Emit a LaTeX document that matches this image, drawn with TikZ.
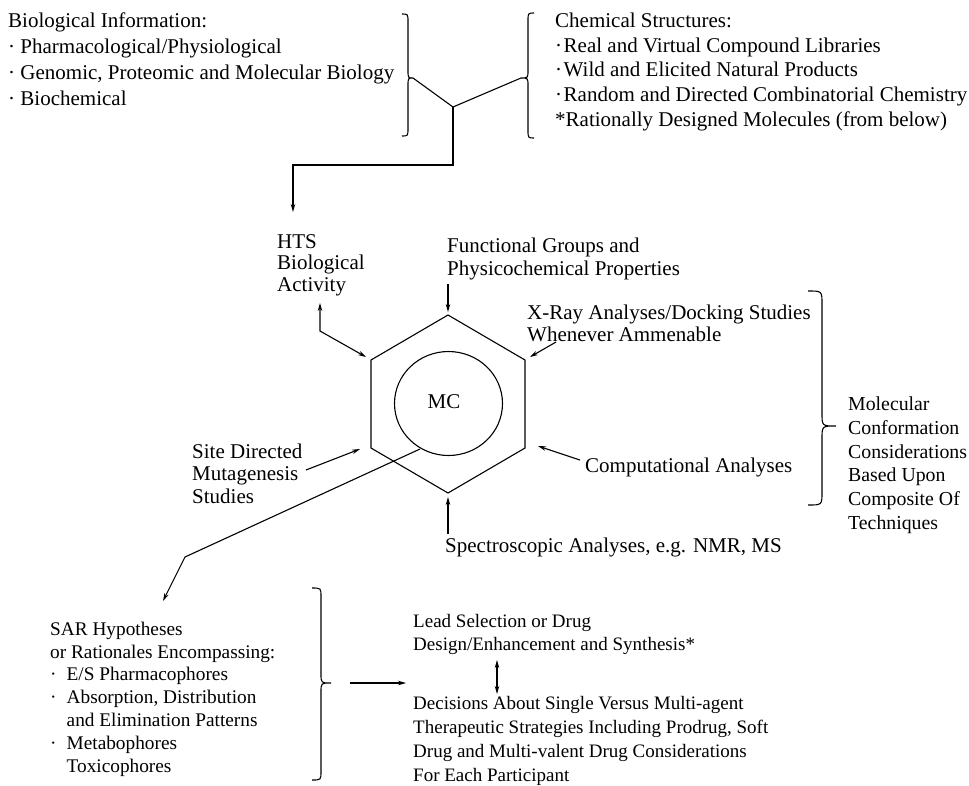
\documentclass[tikz,border=0pt]{standalone}
\usepackage{fontspec}
\setmainfont{Liberation Serif}
\usetikzlibrary{arrows.meta}
% text size and line pitch of a block
\newcommand\blockfont[1]{\fontsize{21}{#1}\selectfont}
\newcommand\sizedfont[2]{\fontsize{#1}{#2}\selectfont}
% hanging bullet used in the SAR list, and the matching indent
\newcommand\sarbul{\makebox[16.5pt][l]{·}}
\newcommand\sarind{\hspace*{16.5pt}}
% curly brace: #1 spine x, #2 top y, #3 tip y, #4 bottom y, #5 tip x, #6 end offset, #7 curl height
\newcommand\CurlyBrace[7]{%
  \draw[brc] ({#1+#6},#2) .. controls (#1,#2) .. (#1,{#2+#7})
    -- (#1,{#3-#7}) .. controls (#1,#3) .. (#5,#3)
    .. controls (#1,#3) .. (#1,{#3+#7})
    -- (#1,{#4-#7}) .. controls (#1,#4) .. ({#1+#6},#4);}
\begin{document}
\begin{tikzpicture}[x=1pt,y=-1pt,
  % multi-line labels are placed by the baseline of their last line
  lbl/.style={anchor=base west, inner sep=0pt, align=left},
  conn/.style={line width=1.1pt},
  arr/.style={conn, -{Stealth[length=8pt,width=4.5pt]}},
  dblarr/.style={conn, {Stealth[length=8pt,width=4.5pt]}-{Stealth[length=8pt,width=4.5pt]}},
  brc/.style={line width=1.1pt}]
\useasboundingbox (0,0) rectangle (969,785);

% ---- inputs at the top ----
\node[lbl, font=\blockfont{25.7}] (bio) at (8,105)
  {Biological Information:\\
   · Pharmacological/Physiological\\
   · Genomic, Proteomic and Molecular Biology\\
   · Biochemical};
\node[lbl, font=\blockfont{24.8}] (chem) at (555,126.5)
  {Chemical Structures:\\
   ·\kern1.5pt Real and Virtual Compound Libraries\\
   ·\kern1.5pt Wild and Elicited Natural Products\\
   ·\kern1.5pt Random and Directed Combinatorial Chemistry\\
   *Rationally Designed Molecules (from below)};

\CurlyBrace{408}{14}{78}{136}{413}{-6}{8}
\CurlyBrace{528}{13}{78}{138}{521}{6}{8}
\coordinate (bioTip) at (413,78);
\coordinate (chemTip) at (521,78);
\coordinate (junc) at (453,107);
\coordinate (bend) at (293,165);
\coordinate (htsIn) at (293,212);
\draw[conn] (bioTip) -- (junc) -- (chemTip);
\draw[arr] (junc) |- (bend) -- (htsIn);

% ---- the ring with MC in its centre ----
\coordinate (hT) at (448,315);
\coordinate (hTR) at (525,360);
\coordinate (hBR) at (525,448);
\coordinate (hB) at (448,493);
\coordinate (hBL) at (371,448);
\coordinate (hTL) at (371,360);
\draw[conn] (hT) -- (hTR) -- (hBR) -- (hB) -- (hBL) -- (hTL) -- cycle;
\draw[conn] (448.5,403.5) ellipse [x radius=54, y radius=52];
\node[inner sep=0pt, font=\blockfont{25}] (mc) at (444,402) {MC};

% ---- labels around the ring ----
\node[lbl, font=\blockfont{21.5}] (hts) at (277,291)
  {HTS\\ Biological\\ Activity};
\node[lbl, font=\blockfont{23}] (func) at (447,275)
  {Functional Groups and\\ Physicochemical Properties};
\node[lbl, font=\blockfont{22}] (xray) at (527,341)
  {X-Ray Analyses/Docking Studies\\ Whenever Ammenable};
\node[lbl, font=\blockfont{22.5}] (site) at (192,503)
  {Site Directed\\ Mutagenesis\\ Studies};
\node[lbl, font=\blockfont{25}] (comp) at (585,472) {Computational Analyses};
\node[lbl, font=\blockfont{25}] (spec) at (445,552) {Spectroscopic Analyses, e.g. NMR, MS};
\node[lbl, font={\sizedfont{19.8}{23.8}}] (molconf) at (848,529.5)
  {Molecular\\ Conformation\\ Considerations\\ Based Upon\\ Composite Of\\ Techniques};

\CurlyBrace{822}{291}{426}{505}{836}{-14}{13}

% arrows into and out of the ring
\coordinate (funcTail) at (448,284);
\coordinate (funcHead) at (448,312);
\draw[arr] (funcTail) -- (funcHead);
\coordinate (htsOut) at (320,303);
\coordinate (htsKnee) at (320,331);
\coordinate (htsHead) at (366,357);
\draw[dblarr] (htsOut) -- (htsKnee) -- (htsHead);
\coordinate (xrayTail) at (556,342);
\coordinate (xrayHead) at (530,357);
\draw[arr] (xrayTail) -- (xrayHead);
\coordinate (siteTail) at (306,470);
\coordinate (siteHead) at (360,449);
\draw[arr] (siteTail) -- (siteHead);
\coordinate (compTail) at (580,460);
\coordinate (compHead) at (538,446);
\draw[arr] (compTail) -- (compHead);
\coordinate (specTail) at (448,534);
\coordinate (specHead) at (448,497);
\draw[arr] (specTail) -- (specHead);
\coordinate (mcOut) at (420,449);
\coordinate (sarKnee) at (185,557);
\coordinate (sarHead) at (163,601);
\draw[arr] (mcOut) -- (sarKnee) -- (sarHead);

% ---- outputs at the bottom ----
\node[lbl, font={\sizedfont{19.3}{22.8}}] (sar) at (50,772)
  {SAR Hypotheses\\
   or Rationales Encompassing:\\
   \sarbul E/S Pharmacophores\\
   \sarbul Absorption, Distribution\\
   \sarind and Elimination Patterns\\
   \sarbul Metabophores\\
   \sarind Toxicophores};
\CurlyBrace{321}{588}{683}{780}{331}{-9}{9}
\coordinate (sarTip) at (350,683);
\coordinate (leadIn) at (406,683);
\draw[arr] (sarTip) -- (leadIn);

\node[lbl, font={\sizedfont{19}{23}}] (lead) at (413,650)
  {Lead Selection or Drug\\ Design/Enhancement and Synthesis*};
\node[lbl, font={\sizedfont{19}{23.8}}] (dec) at (413,781)
  {Decisions About Single Versus Multi-agent\\
   Therapeutic Strategies Including Prodrug, Soft\\
   Drug and Multi-valent Drug Considerations\\
   For Each Participant};
\coordinate (leadLow) at (497,660);
\coordinate (decTop) at (497,694);
\draw[dblarr] (leadLow) -- (decTop);
\end{tikzpicture}
\end{document}
